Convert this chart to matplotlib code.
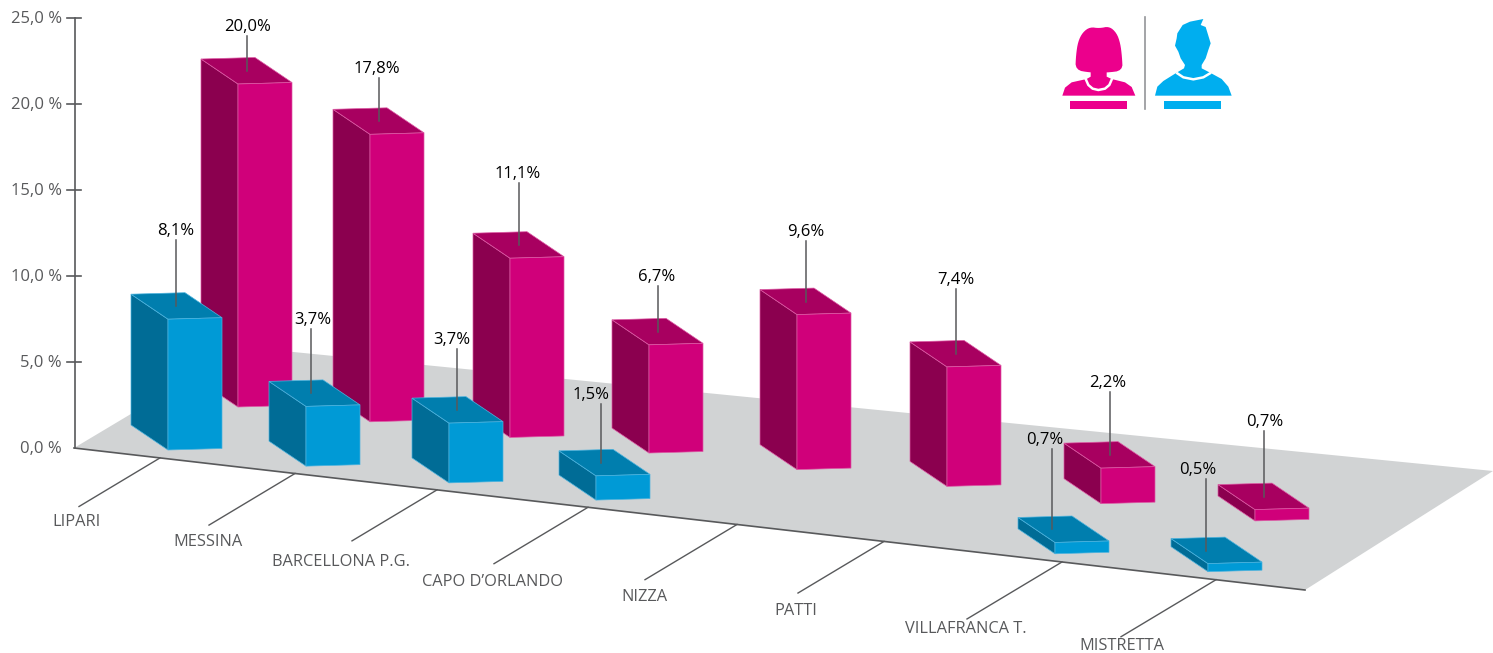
import matplotlib
matplotlib.use('Agg')
import matplotlib.pyplot as plt
from matplotlib.patches import Polygon, Rectangle

plt.rcParams['font.family'] = ['Open Sans', 'DejaVu Sans']

# data
cities = ["LIPARI", "MESSINA", "BARCELLONA P.G.", "CAPO D’ORLANDO", "NIZZA", "PATTI", "VILLAFRANCA T.", "MISTRETTA"]
women = [20.0, 17.8, 11.1, 6.7, 9.6, 7.4, 2.2, 0.7]
men = [8.1, 3.7, 3.7, 1.5, None, None, 0.7, 0.5]
axis_ticks = [0, 5, 10, 15, 20, 25]

# layout, in picture pixels
women_x = [238, 370, 510, 649, 797, 947, 1101, 1255]
men_x = [168, 306, 449, 596, None, None, 1055, 1208]
women_lead = [35, 43, 62, 46, 61, 65, 63, 66]
men_lead = [66, 64, 61, 59, None, None, 80, 72]
men_lead_dx = [-1, -4, -1, -4, None, None, -12, -11]
men_label_dx = [0, 2, -5, -9, None, None, -7, -8]
women_label_dx = [1, -2, -1, -1, 0, 0, -2, 1]
leader_x = [160, 295, 437, 588, 737, 884, 1062, 1216]
leader_dx = [-81, -86, -85, -94, -92, -86, -95, -95]
label_x = [77, 208, 341, 492, 644, 796, 966, 1122]
label_y = [522, 542, 562, 582, 597, 611, 629, 646]

bar_w = 54
depth_x, depth_y = -37, -25
bar_scale = 16.15
axis_scale = 17.2
axis_x, axis_y0 = 74.5, 447.5

grey = '#58595b'
pink = ('#d0007a', '#8b004f', '#a80060', '#dc5aa4')
blue = ('#009ad6', '#006c96', '#007eae', '#4db3de')


def women_base(x):
    return 407 + 0.112 * (x - 238)


def men_base(x):
    return 450 + 0.117 * (x - 168)


def floor_edge(x):
    return 448 + (590 - 448) / (1305 - 74) * (x - 74)


fig = plt.figure(figsize=(14.93, 6.53), dpi=100)
ax = fig.add_axes([0, 0, 1, 1])
ax.set_xlim(0, 1493)
ax.set_ylim(653, 0)
ax.axis('off')

# floor
ax.add_patch(Polygon([(74, 448), (243, 347), (1493, 471), (1305, 590)], closed=True, fc='#d1d3d4', ec='none', zorder=1))
ax.plot([74, 1305], [448, 590], color=grey, lw=1.2, zorder=2)

# value axis
ax.plot([axis_x, axis_x], [axis_y0, axis_y0 - 25 * axis_scale], color=grey, lw=1.2, zorder=2)
for t in axis_ticks:
    y = axis_y0 - t * axis_scale
    if t > 0:
        ax.plot([67, 81], [y, y], color=grey, lw=1.2, zorder=2)
    ax.text(62, y + 1.5, f"{t},0 %", ha='right', va='center', fontsize=12, color=grey)

# city leaders and names
for i, name in enumerate(cities):
    x0 = leader_x[i]
    y0 = floor_edge(x0)
    ax.plot([x0, x0 + leader_dx[i]], [y0, y0 - leader_dx[i] * 0.6], color=grey, lw=1, zorder=2)
    ax.text(label_x[i], label_y[i], name, ha='center', va='center', fontsize=11.8, color=grey)


def draw_bar(x, base, value, colors, zorder):
    front, side, top, edge = colors
    h = value * bar_scale
    ft_l = (x, base - h)
    ft_r = (x + bar_w, base - h - 1.5)
    fb_l = (x, base)
    fb_r = (x + bar_w, base - 1.5)
    bt_l = (x + depth_x, base - h + depth_y)
    bb_l = (x + depth_x, base + depth_y)
    bt_r = (x + bar_w + depth_x, base - h - 1.5 + depth_y)
    kw = dict(closed=True, ec=edge, lw=0.5, zorder=zorder)
    ax.add_patch(Polygon([bt_l, ft_l, fb_l, bb_l], fc=side, **kw))
    ax.add_patch(Polygon([bt_l, bt_r, ft_r, ft_l], fc=top, **kw))
    ax.add_patch(Polygon([ft_l, ft_r, fb_r, fb_l], fc=front, **kw))
    return base - h - 13


def draw_value(x, ytop, length, value, text_dx):
    ax.plot([x, x], [ytop - length, ytop], color=grey, lw=1.1, zorder=20)
    ax.text(x + text_dx, ytop - length - 9, f"{value:.1f}%".replace('.', ','),
            ha='center', va='center', fontsize=12, color='black', zorder=21)


for i in range(len(women)):
    ytop = draw_bar(women_x[i], women_base(women_x[i]), women[i], pink, 5)
    draw_value(women_x[i] + 8.5, ytop, women_lead[i], women[i], women_label_dx[i])

for i in range(len(men)):
    if men[i] is None:
        continue
    ytop = draw_bar(men_x[i], men_base(men_x[i]), men[i], blue, 10)
    draw_value(men_x[i] + 8.5 + men_lead_dx[i], ytop, men_lead[i], men[i], men_label_dx[i])


# legend icons, outlines
def icon(points):
    return [(1040 + px / 3, 5 + py / 3) for px, py in points]


def smooth(points, rounds=2):
    # corner cutting so the traced outlines do not look angular
    for _ in range(rounds):
        out = []
        for j in range(len(points)):
            a, b = points[j], points[(j + 1) % len(points)]
            out.append((0.75 * a[0] + 0.25 * b[0], 0.75 * a[1] + 0.25 * b[1]))
            out.append((0.25 * a[0] + 0.75 * b[0], 0.25 * a[1] + 0.75 * b[1]))
        points = out
    return points


icon_pink = '#ec008c'
icon_blue = '#00aeef'

hair = [(106, 195), (108, 150), (114, 110), (128, 82), (150, 66), (178, 70), (208, 64), (230, 84), (241, 115),
        (246, 155), (248, 197), (200, 203), (152, 203)]
body_w = [(67, 272), (75, 248), (95, 232), (140, 222), (152, 215), (152, 195), (200, 195), (200, 215), (215, 222),
          (255, 232), (275, 246), (286, 272)]
body_m = [(345, 272), (352, 245), (370, 228), (410, 203), (432, 190), (435, 180), (422, 160), (415, 140), (405, 122),
          (410, 100), (412, 85), (428, 60), (450, 50), (490, 42), (482, 60), (497, 66), (505, 92), (512, 115),
          (505, 135), (497, 160), (485, 180), (485, 190), (512, 204), (545, 222), (565, 245), (575, 272)]
arc_w = [(138, 224), (145, 240), (158, 251), (175, 255), (195, 251), (208, 240), (215, 224)]
arc_m = [(412, 205), (430, 217), (460, 223), (490, 217), (510, 205)]

ax.add_patch(Polygon(icon(smooth(hair)), closed=True, fc=icon_pink, ec='none', zorder=5))
ax.add_patch(Polygon(icon(body_w), closed=True, fc=icon_pink, ec='none', zorder=5))
ax.add_patch(Polygon(icon(body_m), closed=True, fc=icon_blue, ec='none', zorder=5))
for arc in (arc_w, arc_m):
    xs, ys = zip(*icon(arc))
    ax.plot(xs, ys, color='white', lw=1.8, zorder=6)
ax.add_patch(Rectangle((1070, 101), 57, 8, fc=icon_pink, ec='none', zorder=5))
ax.add_patch(Rectangle((1164, 101), 57, 8, fc=icon_blue, ec='none', zorder=5))
ax.plot([1144.7, 1144.7], [17, 109], color='#939598', lw=1.2, zorder=5)

fig.savefig("out.png", dpi=100, facecolor='white')
plt.close()
